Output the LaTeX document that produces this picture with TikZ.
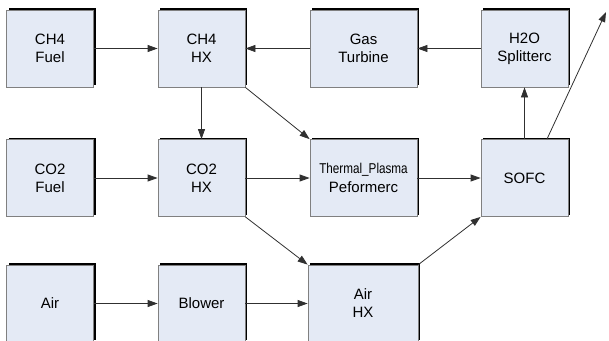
\documentclass[tikz,border=0pt]{standalone}
\usepackage{fontspec}
\setmainfont{Liberation Sans}
\usetikzlibrary{arrows.meta,shadows}
\definecolor{boxfill}{HTML}{E4EAF5}
\definecolor{boxline}{HTML}{808080}
\definecolor{wire}{HTML}{303030}
\tikzset{
  blk/.style={draw=boxline, line width=0.8pt, fill=boxfill, minimum width=87pt, minimum height=77pt,
    align=center, inner sep=0pt, font=\fontsize{15}{18}\selectfont,
    drop shadow={shadow xshift=2pt, shadow yshift=2pt, fill=black, opacity=1}},
  wideblk/.style={blk, minimum width=107pt},
  flow/.style={draw=wire, line width=0.8pt, -{Triangle[length=10pt,width=7pt]}},
}
\begin{document}
\begin{tikzpicture}[x=1pt,y=-1pt]
\useasboundingbox (0,0) rectangle (609,340);
% row 1
\node[blk] (ch4fuel) at (50,48.5) {CH4\\Fuel};
\node[blk] (ch4hx) at (201.5,48.5) {CH4\\HX};
\node[wideblk] (gt) at (363.5,48.5) {Gas\\Turbine};
\node[blk] (h2o) at (524.5,48.5) {H2O\\Splitterc};
% row 2
\node[blk] (co2fuel) at (50,178) {CO2\\Fuel};
\node[blk] (co2hx) at (201.5,178) {CO2\\HX};
\node[wideblk] (tp) at (363.5,178) {\raisebox{1pt}{\scalebox{0.78}[0.95]{Thermal\_Plasma}}\\Peformerc};
\node[blk] (sofc) at (524.5,178) {SOFC};
% row 3
\node[blk] (air) at (50,303.5) {Air};
\node[blk] (blower) at (201.5,303.5) {Blower};
\node[wideblk, minimum width=110pt] (airhx) at (363,303.5) {Air\\HX};
\coordinate (out) at (606,12);
% connectors
\draw[flow] (ch4fuel) -- (ch4hx);
\draw[flow] (gt) -- (ch4hx);
\draw[flow] (h2o) -- (gt);
\draw[flow] (sofc.north) -- (h2o.south);
\draw[flow] (sofc.60) -- (out);
\draw[flow] (ch4hx.south) -- (co2hx.north);
\draw[flow] (ch4hx.south east) -- (tp.north west);
\draw[flow] (co2fuel) -- (co2hx);
\draw[flow] (co2hx) -- (tp);
\draw[flow] (tp) -- (sofc);
\draw[flow] (co2hx.south east) -- (airhx.north west);
\draw[flow] (air) -- (blower);
\draw[flow] (blower) -- (airhx);
\draw[flow] (airhx.north east) -- (sofc.south west);
\end{tikzpicture}
\end{document}
